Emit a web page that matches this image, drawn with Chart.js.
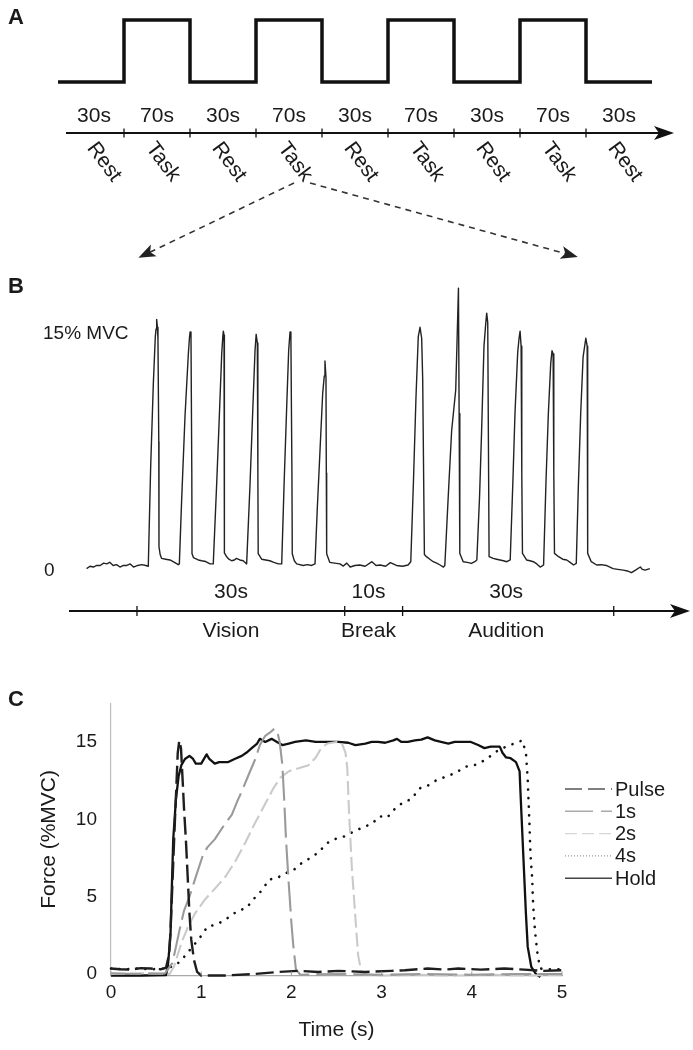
<!DOCTYPE html>
<html><head><meta charset="utf-8">
<script src="https://cdn.jsdelivr.net/npm/chart.js@4.4.0/dist/chart.umd.min.js"></script>
<style>
html,body{margin:0;padding:0;background:#fff;}
#wrap{position:relative;width:693px;height:1050px;overflow:hidden;background:#fff;}
canvas{position:absolute;left:0;}
</style></head><body>
<div id="wrap">
<canvas id="cA" width="693" height="270" style="top:0px"></canvas>
<canvas id="cB" width="693" height="380" style="top:270px"></canvas>
<canvas id="cC" width="693" height="400" style="top:650px"></canvas>
</div>
<script>
// ---------------- DATA ----------------
// Panel A: block design (schematic, equal-width segments)
const segLabels    = ['Rest','Task','Rest','Task','Rest','Task','Rest','Task','Rest'];
const segDurations = ['30s','70s','30s','70s','30s','70s','30s','70s','30s'];
const segStates    = [0,1,0,1,0,1,0,1,0];

// Panel B: force trace during one task block, time (s) vs %MVC
const phaseNames  = ['Vision','Break','Audition'];
const phaseDurs   = ['30s','10s','30s'];
const phaseBounds = [0, 30.5, 39, 70];
const phaseLabelT = [13.8, 34, 54.2];
const traceB = [
 [-7.4,-0.1],[-6.9,0.05],[-6.4,0],[-5.9,0.1],[-5.4,0.1],[-4.9,0.25],[-4.45,0.2],[-4.0,0.3],[-3.5,0.1],[-3.0,0.15],[-2.5,0],[-2.0,0.1],[-1.5,0.1],[-1.0,0.2],[-0.5,0],[0.1,0.1],[0.7,0.15],[1.3,0.1],[1.66,0.05],
 [2.01,6.4],[2.4,11.7],[2.69,14.7],[2.8,15.2],[2.89,15.8],[3.0,15.3],[3.08,14.5],[3.2,8],[3.23,1.3],[3.4,0.8],[3.62,0.55],[4.2,0.5],[4.85,0.45],[5.5,0.3],[6.07,0.15],[6.22,0.2],
 [6.56,4.3],[7.05,9.6],[7.54,13.6],[7.7,14.6],[7.8,15.0],[7.93,14.7],[8.05,6],[8.08,0.85],[8.3,0.6],[8.52,0.55],[9.0,0.45],[9.5,0.4],[10.1,0.35],[10.72,0.2],[11.2,0.2],
 [11.7,5.3],[12.09,9.6],[12.44,13.6],[12.6,14.7],[12.68,15.05],[12.78,14.8],[12.82,6],[12.85,0.9],[13.17,0.65],[13.5,0.5],[13.9,0.4],[14.3,0.45],[14.6,0.55],[15.1,0.45],[15.6,0.4],[16.1,0.2],
 [16.6,5.3],[17.0,10],[17.33,13.8],[17.5,14.85],[17.67,14.3],[17.75,6],[17.8,0.85],[18.3,0.5],[18.9,0.45],[19.5,0.4],[20.1,0.3],[20.75,0.2],[21.25,0.2],
 [21.6,5.3],[21.98,10.2],[22.27,13.8],[22.47,15.0],[22.6,14.6],[22.75,6],[22.8,0.85],[23.1,0.4],[23.45,0.2],[24.4,0.1],[25.0,0.15],[25.65,0.1],[26.14,0.2],
 [26.48,3.8],[26.87,7.4],[27.27,11.1],[27.5,12.2],[27.6,13.15],[27.75,12.1],[27.8,6],[27.85,0.85],[28.3,0.3],[29.0,0.25],[29.8,0.2],[30.3,0.06],[30.8,0.25],[31.3,0],[32.0,0.1],[32.7,0.13],[33.5,0.05],[34.5,0.34],[35.1,0.1],[35.7,0.13],[36.5,0.05],[37.2,0.28],[38.1,0.1],[39.0,0.05],[39.8,0.13],[40.2,0.34],
 [40.6,5.55],[40.97,10.9],[41.3,14.7],[41.56,15.3],[41.8,14.6],[41.95,12],[42.2,0.8],[42.5,0.66],[43.0,0.5],[43.5,0.34],[44.0,0.25],[44.5,0.13],[45.0,0],[45.2,0.1],
 [45.7,4.5],[46.2,8.7],[46.8,11.3],[47.0,14.5],[47.2,17.8],[47.3,9.8],[47.4,0.87],[47.9,0.34],[48.5,0.3],[49.1,0.23],[49.6,0.34],[49.9,0.45],
 [50.3,4.5],[50.6,8.7],[50.95,14.1],[51.2,15.5],[51.35,16.2],[51.5,15.6],[51.6,8],[51.7,0.66],[52.3,0.55],[52.8,0.5],[53.3,0.45],[53.8,0.4],[54.3,0.34],[54.8,0.45],
 [55.2,5.55],[55.5,9.8],[55.9,13.7],[56.1,14.6],[56.25,15.05],[56.4,14.1],[56.5,6],[56.6,0.87],[57.2,0.45],[57.7,0.4],[58.2,0.34],[58.7,0.2],[59.2,0],[59.7,0.13],
 [60.06,5.55],[60.4,9.8],[60.75,13.0],[60.94,13.8],[61.1,13.6],[61.2,6],[61.3,0.87],[61.9,0.66],[62.5,0.5],[63.1,0.45],[63.6,0.3],[64.1,0.13],[64.5,0.23],
 [64.8,5.1],[65.15,9.8],[65.5,13.4],[65.9,14.6],[66.1,14.1],[66.15,6],[66.2,0.87],[66.7,0.34],[67.5,0.13],[68.2,0.15],[68.9,0.1],[69.9,-0.1],[70.6,-0.15],[71.4,-0.2],[72.0,-0.25],[72.6,-0.36],[73.2,-0.2],[73.9,0],[74.2,-0.15],[74.6,-0.2],[75.3,-0.1]
];

// Panel C: force (%MVC) vs time (s)
const seriesNames = ['Pulse','1s','2s','4s','Hold'];
const pulseData = [[0,0.35],[0.1,0.3],[0.22,0.28],[0.33,0.38],[0.44,0.35],[0.55,0.3],[0.61,0.4],[0.645,1.3],[0.66,2.8],[0.68,5.7],[0.70,8.7],[0.72,11.5],[0.74,14.3],[0.757,15.1],[0.776,14.6],[0.79,13.0],[0.81,10.65],[0.83,8.7],[0.85,6.3],[0.87,3.9],[0.89,2.2],[0.92,0.9],[0.955,0.13],[1.0,-0.1],[1.26,-0.1],[1.6,0],[1.86,0.13],[2.08,0.2],[2.3,0.13],[2.52,0.2],[2.82,0.13],[3.11,0.2],[3.26,0.24],[3.51,0.35],[3.7,0.28],[3.85,0.35],[4.1,0.28],[4.36,0.35],[4.58,0.28],[4.8,0.2],[5.0,0.24]];
const oneSData  = [[0,0.05],[0.3,0],[0.6,0.05],[0.68,0.7],[0.72,1.75],[0.76,2.85],[0.81,4.1],[0.87,5.0],[0.93,6.1],[1.02,7.7],[1.07,8.2],[1.15,8.7],[1.24,9.5],[1.34,10.3],[1.41,11.3],[1.45,11.8],[1.52,12.8],[1.6,13.9],[1.65,14.8],[1.71,15.4],[1.76,15.6],[1.81,15.85],[1.84,15.75],[1.87,15.0],[1.9,13.5],[1.92,11.3],[1.94,8.7],[1.97,5.9],[2.0,3.3],[2.02,1.9],[2.05,0.3],[2.1,-0.05],[2.5,0],[3.0,-0.05],[3.5,0],[4.0,-0.05],[4.5,0],[5.0,0]];
const twoSData  = [[0,0],[0.35,0.05],[0.65,0],[0.70,0.5],[0.78,2.0],[0.85,3.0],[0.93,3.9],[1.04,4.8],[1.15,5.5],[1.27,6.3],[1.38,7.3],[1.49,8.5],[1.6,9.8],[1.71,11.0],[1.8,12.0],[1.88,12.7],[1.97,13.1],[2.08,13.3],[2.19,13.5],[2.27,14.0],[2.33,14.6],[2.4,14.9],[2.5,15.0],[2.56,14.9],[2.6,14.3],[2.62,13.3],[2.64,10.3],[2.67,6.9],[2.71,3.6],[2.74,1.2],[2.78,0],[3.0,-0.1],[3.4,-0.05],[3.8,-0.1],[4.2,-0.05],[4.6,-0.1],[5.0,-0.05]];
const fourSData = [[0,0.35],[0.15,0.3],[0.3,0.35],[0.45,0.3],[0.6,0.35],[0.72,0.56],[0.81,1.1],[0.98,2.3],[1.07,3.06],[1.15,3.17],[1.24,3.4],[1.41,4.1],[1.5,4.25],[1.59,4.9],[1.68,5.45],[1.75,6.1],[1.84,6.2],[1.93,6.5],[2.03,6.75],[2.12,7.2],[2.21,7.5],[2.31,7.9],[2.38,8.4],[2.47,8.7],[2.59,8.9],[2.69,9.2],[2.8,9.5],[2.89,9.7],[2.98,10.2],[3.06,10.1],[3.15,10.7],[3.24,11.1],[3.33,11.3],[3.42,12.0],[3.49,12.1],[3.6,12.5],[3.73,12.8],[3.82,13.0],[3.93,13.4],[4.03,13.5],[4.12,13.75],[4.21,14.1],[4.29,14.45],[4.38,14.7],[4.47,14.9],[4.56,15.1],[4.6,14.3],[4.62,12.6],[4.64,9.6],[4.65,7.8],[4.67,6.1],[4.68,4.5],[4.7,2.8],[4.73,1.2],[4.76,0.35],[4.85,0.3],[5.0,0.3]];
const holdData  = [[0,-0.1],[0.33,-0.1],[0.61,-0.07],[0.63,0.45],[0.66,2.6],[0.675,5.7],[0.69,8.7],[0.72,11.3],[0.75,12.8],[0.78,13.5],[0.82,13.9],[0.87,14.1],[0.91,13.9],[0.94,13.6],[1.0,13.6],[1.06,14.2],[1.09,13.9],[1.15,13.6],[1.2,13.7],[1.3,13.7],[1.37,13.9],[1.45,14.1],[1.5,14.3],[1.56,14.6],[1.62,14.9],[1.65,15.2],[1.71,15.0],[1.78,15.2],[1.84,15.0],[1.9,14.8],[1.97,14.9],[2.04,15.0],[2.16,15.1],[2.27,15.0],[2.38,15.0],[2.52,15.0],[2.63,14.95],[2.71,14.8],[2.82,14.9],[2.89,15.0],[2.96,15.0],[3.04,14.95],[3.13,15.1],[3.17,15.2],[3.22,15.0],[3.29,15.0],[3.37,15.1],[3.44,15.15],[3.51,15.3],[3.59,15.1],[3.66,15.0],[3.74,14.9],[3.81,15.0],[3.92,15.0],[3.99,15.0],[4.07,14.8],[4.14,14.6],[4.21,14.7],[4.31,14.7],[4.34,14.3],[4.38,14.0],[4.43,13.95],[4.49,13.7],[4.53,13.1],[4.54,11.7],[4.56,9.1],[4.58,6.5],[4.6,3.9],[4.62,1.75],[4.66,0.45],[4.71,0],[4.76,-0.2]];
const xTicksC = [0,1,2,3,4,5];
const yTicksC = [0,5,10,15];

// ---------------- STYLE ----------------
const FONT = "'Liberation Sans', Arial, Helvetica, sans-serif";
const TXT = '#1a1a1a';
Chart.defaults.font.family = FONT;
Chart.defaults.color = TXT;
const base = {responsive:false, animation:false, devicePixelRatio:1, events:[],
  plugins:{legend:{display:false}, tooltip:{enabled:false}}};
const toXY = arr => arr.map(p => ({x:p[0], y:p[1]}));

function arrowHead(ctx, tx, ty, ang, len, half, notch){
  ctx.save(); ctx.translate(tx,ty); ctx.rotate(ang);
  ctx.beginPath(); ctx.moveTo(0,0); ctx.lineTo(-len,-half); ctx.lineTo(-len+notch,0); ctx.lineTo(-len,half); ctx.closePath(); ctx.fill();
  ctx.restore();
}

// ---------------- PANEL A ----------------
const aPts = segStates.map((s,i)=>({x:i,y:s}));
aPts.push({x:segStates.length, y:segStates[segStates.length-1]});
new Chart(document.getElementById('cA'), {
  type:'line',
  data:{datasets:[{data:aPts, borderColor:'#111', borderWidth:3.5, stepped:'before', pointRadius:0, clip:false, borderJoinStyle:'miter', fill:false}]},
  options:Object.assign({}, base, {
    layout:{padding:{left:58,right:41,top:20,bottom:188}},
    scales:{x:{type:'linear',min:0,max:segStates.length,display:false}, y:{min:0,max:1,display:false}}
  }),
  plugins:[{id:'annA', afterDraw(chart){
    const ctx=chart.ctx, xs=chart.scales.x;
    ctx.save();
    ctx.fillStyle=TXT; ctx.strokeStyle='#111';
    ctx.font='bold 22px '+FONT; ctx.textAlign='left'; ctx.textBaseline='middle';
    ctx.fillText('A', 8, 18);
    // time axis arrow
    const ay=133;
    ctx.lineWidth=2; ctx.beginPath(); ctx.moveTo(66,ay); ctx.lineTo(662,ay); ctx.stroke();
    ctx.fillStyle='#111'; arrowHead(ctx, 674, ay, 0, 20, 7, 5);
    ctx.lineWidth=1.3;
    for(let i=1;i<segStates.length;i++){ const px=xs.getPixelForValue(i); ctx.beginPath(); ctx.moveTo(px,ay-4.5); ctx.lineTo(px,ay+4.5); ctx.stroke(); }
    ctx.fillStyle=TXT; ctx.font='21px '+FONT; ctx.textAlign='center'; ctx.textBaseline='alphabetic';
    segDurations.forEach((d,i)=>{ ctx.fillText(d, xs.getPixelForValue(i+0.5)+(i===0?3:0), 122); });
    ctx.textBaseline='middle';
    segLabels.forEach((l,i)=>{ ctx.save(); ctx.translate(xs.getPixelForValue(i+0.5)+(i===0?13:6), 162); ctx.rotate(53*Math.PI/180); ctx.fillText(l,0,0); ctx.restore(); });
    // dashed zoom arrows from 4th segment
    const sx = xs.getPixelForValue(3.5);
    ctx.strokeStyle='#333'; ctx.fillStyle='#222'; ctx.lineWidth=1.6; ctx.setLineDash([6,5]);
    const L=[[sx+5,183,142,256],[sx+21,183,574,256]];
    L.forEach(a=>{ ctx.beginPath(); ctx.moveTo(a[0],a[1]); ctx.lineTo(a[2],a[3]); ctx.stroke(); });
    ctx.setLineDash([]);
    L.forEach(a=>{ const ang=Math.atan2(a[3]-a[1],a[2]-a[0]); arrowHead(ctx, a[2]+Math.cos(ang)*4, a[3]+Math.sin(ang)*4, ang, 17, 6.5, 4); });
    ctx.restore();
  }}]
});

// ---------------- PANEL B ----------------
new Chart(document.getElementById('cB'), {
  type:'line',
  data:{datasets:[{data:toXY(traceB), borderColor:'#222', borderWidth:1.4, pointRadius:0, clip:false, borderJoinStyle:'round', tension:0, fill:false}]},
  options:Object.assign({}, base, {
    layout:{padding:{left:85.9,right:38.4,top:22.8,bottom:67.3}},
    scales:{x:{type:'linear',min:-7.5,max:76,display:false}, y:{min:-1,max:17.5,display:false}}
  }),
  plugins:[{id:'annB', afterDraw(chart){
    const ctx=chart.ctx, xs=chart.scales.x, ys=chart.scales.y;
    ctx.save();
    ctx.fillStyle=TXT; ctx.strokeStyle='#111';
    ctx.font='bold 22px '+FONT; ctx.textAlign='left'; ctx.textBaseline='middle';
    ctx.fillText('B', 8, 17);
    ctx.font='19px '+FONT;
    ctx.fillText('15% MVC', 43, ys.getPixelForValue(15)+2);
    ctx.fillText('0', 44, ys.getPixelForValue(0)+4);
    const ay=341;
    ctx.lineWidth=2; ctx.beginPath(); ctx.moveTo(69,ay); ctx.lineTo(678,ay); ctx.stroke();
    ctx.fillStyle='#111'; arrowHead(ctx, 690, ay, 0, 20, 7, 5);
    ctx.lineWidth=1.3;
    phaseBounds.forEach(b=>{ const px=xs.getPixelForValue(b); ctx.beginPath(); ctx.moveTo(px,ay-5); ctx.lineTo(px,ay+5); ctx.stroke(); });
    ctx.fillStyle=TXT; ctx.font='21px '+FONT; ctx.textAlign='center'; ctx.textBaseline='alphabetic';
    phaseNames.forEach((n,i)=>{
      const cx = xs.getPixelForValue(phaseLabelT[i]);
      ctx.fillText(phaseDurs[i], cx, 328);
      ctx.fillText(n, cx, 367);
    });
    ctx.restore();
  }}]
});

// ---------------- PANEL C ----------------
const cColors = ['#1e1e1e','#9a9a9a','#cacaca','#111','#111'];
const cDash   = [[18,6],[30,7],[14,5],[0.1,8.5],[]];
const cWidth  = [2.4,2.1,2.1,2.6,2.3];
const cCap    = ['butt','butt','butt','round','butt'];
const legColors = ['#555','#aaa','#d6d6d6','#999','#444'];
const legDash   = [[17,6],[28,8],[12,5],[1,2],[]];
const cSeries = [pulseData, oneSData, twoSData, fourSData, holdData];
new Chart(document.getElementById('cC'), {
  type:'line',
  data:{datasets: cSeries.map((d,i)=>({label:seriesNames[i], data:toXY(d), borderColor:cColors[i], borderDash:cDash[i], borderWidth:cWidth[i], borderCapStyle:cCap[i], borderJoinStyle:'round', pointRadius:0, tension:0, fill:false, clip:false}))},
  options:Object.assign({}, base, {
    layout:{padding:{left:0,right:131,top:53.3,bottom:44.5}},
    scales:{
      x:{type:'linear', min:0, max:5,
         afterBuildTicks:s=>{ s.ticks = xTicksC.map(v=>({value:v})); },
         afterFit:s=>{ s.height=30; },
         grid:{display:false, drawTicks:false}, border:{display:true, color:'#a8a8a8', width:1.3},
         ticks:{padding:6, color:TXT, font:{size:19}, maxRotation:0}},
      y:{type:'linear', min:-0.1, max:17.5,
         afterBuildTicks:s=>{ s.ticks = yTicksC.map(v=>({value:v})); },
         afterFit:s=>{ s.width=111; },
         grid:{display:false, drawTicks:false}, border:{display:true, color:'#bdbdbd', width:1.2},
         ticks:{padding:14, color:TXT, font:{size:19}}}
    }
  }),
  plugins:[{id:'annC', afterDraw(chart){
    const ctx=chart.ctx, xs=chart.scales.x, ca=chart.chartArea;
    ctx.save();
    ctx.strokeStyle='#999'; ctx.lineWidth=1;
    xTicksC.forEach(v=>{ const px=xs.getPixelForValue(v); ctx.beginPath(); ctx.moveTo(px,ca.bottom); ctx.lineTo(px,ca.bottom-4); ctx.stroke(); });
    ctx.fillStyle=TXT; ctx.font='bold 22px '+FONT; ctx.textAlign='left'; ctx.textBaseline='middle';
    ctx.fillText('C', 8, 50);
    ctx.font='21px '+FONT; ctx.textAlign='center';
    ctx.fillText('Time (s)', (ca.left+ca.right)/2, 380);
    ctx.save(); ctx.translate(49,(ca.top+ca.bottom)/2); ctx.rotate(-Math.PI/2); ctx.fillText('Force (%MVC)',0,0); ctx.restore();
    // legend
    ctx.font='20px '+FONT; ctx.textAlign='left';
    seriesNames.forEach((n,i)=>{
      const y = 139 + i*22.3;
      ctx.strokeStyle=legColors[i]; ctx.lineWidth=1.4; ctx.setLineDash(legDash[i]);
      ctx.beginPath(); ctx.moveTo(565,y); ctx.lineTo(612,y); ctx.stroke();
      ctx.setLineDash([]);
      ctx.fillStyle=TXT; ctx.fillText(n, 615, y+1);
    });
    ctx.restore();
  }}]
});
</script>
</body></html>
